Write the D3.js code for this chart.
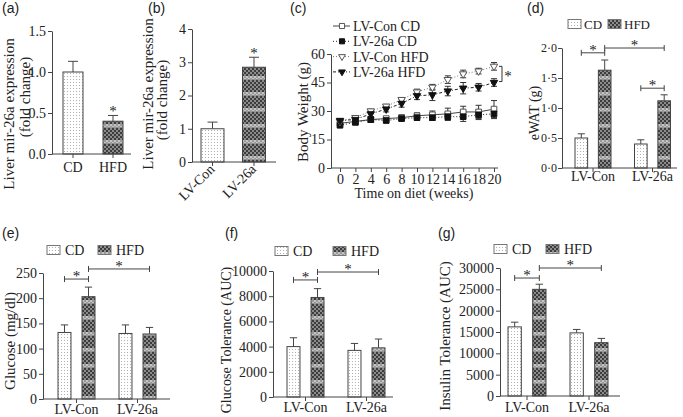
<!DOCTYPE html>
<html>
<head>
<meta charset="utf-8">
<script src="https://cdn.jsdelivr.net/npm/d3@7"></script>
<style>
body { margin: 0; background: #fff; }
svg text { font-family: "Liberation Serif", "Times New Roman", serif !important; fill: #222; }
svg text.plabel { font-family: "Liberation Sans", Arial, sans-serif !important; font-size: 14px; }
.axis path, .axis line { stroke: #444; }
</style>
</head>
<body>
<div id="chart"></div>
<script>
// ---- data ----
const aCats = ["CD", "HFD"];
const aVals = [1.0, 0.40];
const aErr = [0.13, 0.07];

const bCats = ["LV-Con", "LV-26a"];
const bVals = [1.0, 2.85];
const bErr = [0.2, 0.3];

const weeks = [0, 2, 4, 6, 8, 10, 12, 14, 16, 18, 20];
const conCD = [23.5, 24.5, 25.5, 26, 26.5, 27.5, 28, 28.5, 29.5, 29.5, 31];
const conCDErr = [1, 1, 1.5, 1, 1.5, 1.5, 2, 3, 3, 3.5, 4.5];
const lvCD = [22.5, 24, 25.5, 25, 26, 26.5, 26.5, 27, 27, 28, 28.5];
const lvCDErr = [1, 1, 1.5, 1, 1, 1.5, 1.5, 2, 2.5, 2.5, 2.5];
const conHFD = [24.5, 26.5, 30, 32.5, 36, 40, 42.5, 46.5, 49.5, 51, 53.5];
const conHFDErr = [1, 1, 1, 1, 1, 1.5, 1.5, 2, 2, 1.5, 2];
const lvHFD = [25, 25.5, 28.5, 31, 34, 38, 38.5, 40.5, 42, 42.5, 45];
const lvHFDErr = [1, 1, 1.5, 1.5, 2, 2, 3, 2.5, 3, 2, 2];
const seriesNames = ["LV-Con CD", "LV-26a CD", "LV-Con HFD", "LV-26a HFD"];

const groups = ["LV-Con", "LV-26a"];
const diets = ["CD", "HFD"];
const watCD = [0.5, 0.4], watHFD = [1.63, 1.12];
const watCDErr = [0.07, 0.07], watHFDErr = [0.17, 0.1];
const gluCD = [132, 130], gluHFD = [203, 129];
const gluCDErr = [15, 17], gluHFDErr = [19, 13];
const gttCD = [4000, 3700], gttHFD = [7900, 3900];
const gttCDErr = [700, 550], gttHFDErr = [700, 700];
const ittCD = [16200, 14800], ittHFD = [25000, 12500];
const ittCDErr = [1100, 800], ittHFDErr = [1200, 1000];

const SERIF = "Liberation Serif";

// ---- svg + patterns ----
const svg = d3.select("#chart").append("svg").attr("width", 683).attr("height", 417)
  .attr("font-family", SERIF);
svg.append("rect").attr("width", 683).attr("height", 417).attr("fill", "#fff");
const defs = svg.append("defs");

const dots = defs.append("pattern").attr("id", "dots").attr("patternUnits", "userSpaceOnUse")
  .attr("width", 3).attr("height", 3);
dots.append("rect").attr("width", 3).attr("height", 3).attr("fill", "#fff");
dots.append("rect").attr("x", 1).attr("y", 1).attr("width", 1).attr("height", 1).attr("fill", "#b0b0b0");

const check = defs.append("pattern").attr("id", "check").attr("patternUnits", "userSpaceOnUse")
  .attr("width", 4).attr("height", 16);
check.append("rect").attr("width", 4).attr("height", 16).attr("fill", "#8c8c8c");
check.append("rect").attr("y", 12).attr("width", 4).attr("height", 3).attr("fill", "#c4c4c4");
for (let yy = 0; yy < 16; yy += 4) {
  const dark = yy >= 12 ? "#9a9a9a" : "#3c3c3c";
  check.append("rect").attr("x", 0).attr("y", yy).attr("width", 2).attr("height", 2).attr("fill", dark);
  check.append("rect").attr("x", 2).attr("y", yy + 2).attr("width", 2).attr("height", 2).attr("fill", dark);
}
const fillFor = d => d === "CD" || d === "LV-Con" ? "url(#dots)" : "url(#check)";

function txt(x, y, s, size) {
  return svg.append("text").attr("x", x).attr("y", y).attr("font-family", SERIF)
    .attr("font-size", size || 14).attr("fill", "#222").text(s);
}
function panelLabel(s, x, y) {
  svg.append("text").attr("class", "plabel").attr("x", x).attr("y", y)
    .attr("font-family", "Liberation Sans").attr("font-size", 14).attr("fill", "#222").text(s);
}
function yTitle(s, x, y, size) {
  txt(0, 0, s, size).attr("transform", `translate(${x},${y}) rotate(-90)`)
    .attr("text-anchor", "middle").attr("dy", "0.35em");
}
function star(x, y) {
  txt(x, y + 7, "*", 15).attr("text-anchor", "middle");
}
function yAxis(y, x, ticks, fmt, size, pad) {
  const g = svg.append("g").attr("class", "axis").attr("transform", `translate(${x},0)`)
    .call(d3.axisLeft(y).tickValues(ticks).tickFormat(fmt).tickSize(4).tickSizeOuter(0).tickPadding(pad == null ? 2 : pad));
  g.attr("font-family", SERIF).attr("font-size", size || 14);
  g.selectAll("text").attr("fill", "#222");
  return g;
}
function xBase(x1, x2, y0, centers) {
  svg.append("line").attr("x1", x1).attr("x2", x2).attr("y1", y0).attr("y2", y0).attr("stroke", "#444");
  centers.forEach(c => svg.append("line").attr("x1", c).attr("x2", c).attr("y1", y0).attr("y2", y0 + 4).attr("stroke", "#444"));
}

// ---- (a) ----
panelLabel("(a)", 2, 13);
{
  const y = d3.scaleLinear().domain([0, 1.5]).range([154, 31]);
  const x = d3.scaleBand().domain(aCats).range([53, 133]).paddingInner(0.5).paddingOuter(0.25);
  yAxis(y, 52, [0, 0.5, 1.0, 1.5], d3.format(".1f"));
  aCats.forEach((c, i) => {
    const cx = x(c) + x.bandwidth() / 2;
    svg.append("line").attr("x1", cx).attr("x2", cx).attr("y1", y(aVals[i])).attr("y2", y(aVals[i] + aErr[i])).attr("stroke", "#444");
    svg.append("line").attr("x1", cx - 5).attr("x2", cx + 5).attr("y1", y(aVals[i] + aErr[i])).attr("y2", y(aVals[i] + aErr[i])).attr("stroke", "#444");
    svg.append("rect").attr("x", x(c)).attr("y", y(aVals[i])).attr("width", x.bandwidth())
      .attr("height", y(0) - y(aVals[i])).attr("fill", fillFor(c)).attr("stroke", "#444");
    txt(cx, 172, c).attr("text-anchor", "middle");
  });
  xBase(52, 131, 154, aCats.map(c => x(c) + x.bandwidth() / 2));
  star(x("HFD") + x.bandwidth() / 2, y(aVals[1] + aErr[1]) - 6);
  yTitle("Liver mir-26a expression", 9, 114, 15);
  yTitle("(fold change)", 25, 97, 15);
}

// ---- (b) ----
panelLabel("(b)", 148, 13);
{
  const y = d3.scaleLinear().domain([0, 4]).range([162, 29]);
  const x = d3.scaleBand().domain(bCats).range([192, 274.5]).paddingInner(0.446).paddingOuter(0.217);
  yAxis(y, 192, [0, 1, 2, 3, 4], d3.format("d"));
  bCats.forEach((c, i) => {
    const cx = x(c) + x.bandwidth() / 2;
    svg.append("line").attr("x1", cx).attr("x2", cx).attr("y1", y(bVals[i])).attr("y2", y(bVals[i] + bErr[i])).attr("stroke", "#444");
    svg.append("line").attr("x1", cx - 5).attr("x2", cx + 5).attr("y1", y(bVals[i] + bErr[i])).attr("y2", y(bVals[i] + bErr[i])).attr("stroke", "#444");
    svg.append("rect").attr("x", x(c)).attr("y", y(bVals[i])).attr("width", x.bandwidth())
      .attr("height", y(0) - y(bVals[i])).attr("fill", fillFor(c)).attr("stroke", "#444");
    txt(0, 0, c).attr("transform", `translate(${cx + 3},${170}) rotate(-45)`).attr("text-anchor", "end");
  });
  xBase(192, 276, 162, bCats.map(c => x(c) + x.bandwidth() / 2));
  star(x("LV-26a") + x.bandwidth() / 2, y(bVals[1] + bErr[1]) - 6);
  yTitle("Liver mir-26a expression", 148, 94, 15);
  yTitle("(fold change)", 162, 100, 15);
}

// ---- (c) ----
panelLabel("(c)", 290, 13);
{
  const x = d3.scaleLinear().domain([0, 20]).range([340, 494]);
  const y = d3.scaleLinear().domain([0, 60]).range([168, 54]);
  yAxis(y, 331, [0, 15, 30, 45, 60], d3.format("d"));
  const xa = svg.append("g").attr("class", "axis").attr("transform", "translate(0,168)")
    .call(d3.axisBottom(x).tickValues(weeks).tickSize(4).tickSizeOuter(0).tickPadding(2));
  xa.attr("font-family", SERIF).attr("font-size", 14);
  xa.select(".domain").remove();
  xa.selectAll("text").attr("fill", "#222");
  svg.append("line").attr("x1", 331).attr("x2", 498).attr("y1", 168).attr("y2", 168).attr("stroke", "#444");
  txt(414, 198, "Time on diet (weeks)").attr("text-anchor", "middle");
  yTitle("Body Weight (g)", 303, 112, 15);

  const series = [
    { name: seriesNames[0], v: conCD, e: conCDErr, sym: d3.symbolSquare, rot: 0, filled: false, dash: null, col: "#444" },
    { name: seriesNames[1], v: lvCD, e: lvCDErr, sym: d3.symbolSquare, rot: 0, filled: true, dash: "1,2", col: "#222" },
    { name: seriesNames[2], v: conHFD, e: conHFDErr, sym: d3.symbolTriangle, rot: 180, filled: false, dash: "1,2", col: "#777" },
    { name: seriesNames[3], v: lvHFD, e: lvHFDErr, sym: d3.symbolTriangle, rot: 180, filled: true, dash: "3,2,1,2", col: "#222" }
  ];
  const line = d3.line().x((d, i) => x(weeks[i])).y(d => y(d));
  series.forEach(s => {
    svg.append("path").attr("d", line(s.v)).attr("fill", "none").attr("stroke", s.col)
      .attr("stroke-width", 1).attr("stroke-dasharray", s.dash);
    s.v.forEach((v, i) => {
      const cx = x(weeks[i]);
      const g = svg.append("g").attr("stroke", "#333");
      g.append("line").attr("x1", cx).attr("x2", cx).attr("y1", y(v - s.e[i])).attr("y2", y(v + s.e[i]));
      [v - s.e[i], v + s.e[i]].forEach(t => g.append("line").attr("x1", cx - 3).attr("x2", cx + 3).attr("y1", y(t)).attr("y2", y(t)));
    });
  });
  series.forEach(s => {
    svg.selectAll(null).data(s.v).enter().append("path")
      .attr("d", d3.symbol().type(s.sym).size(s.sym === d3.symbolSquare ? 32 : 24))
      .attr("transform", (d, i) => `translate(${x(weeks[i])},${y(d)}) rotate(${s.rot})`)
      .attr("fill", s.filled ? "#111" : "#fff").attr("stroke", s.filled ? "#111" : "#555");
  });
  // legend
  series.forEach((s, i) => {
    const ly = 26 + i * 15.3;
    svg.append("line").attr("x1", 333).attr("x2", 350).attr("y1", ly).attr("y2", ly)
      .attr("stroke", s.col).attr("stroke-dasharray", s.dash);
    svg.append("path").attr("d", d3.symbol().type(s.sym).size(s.sym === d3.symbolSquare ? 26 : 20)).attr("transform", `translate(342,${ly}) rotate(${s.rot})`)
      .attr("fill", s.filled ? "#111" : "#fff").attr("stroke", s.filled ? "#111" : "#555");
    txt(353, ly, s.name).attr("dy", "0.35em");
  });
  // significance
  const bx = x(20) + 8;
  svg.append("path").attr("d", `M${bx - 3},${y(53.5)}H${bx}V${y(45.5)}H${bx - 3}`).attr("fill", "none").attr("stroke", "#333");
  star(bx + 6, (y(53.5) + y(45.5)) / 2);
}

// ---- grouped bar panels (d)-(g) ----
function grouped(o) {
  const y = d3.scaleLinear().domain([0, o.max]).range([o.bottom, o.top]);
  const p = (o.step - o.gw) / o.step, q = o.offset / o.step;
  const x0 = d3.scaleBand().domain(groups).range([o.left, o.left + o.step * (2 - p + 2 * q)]).paddingInner(p).paddingOuter(q);
  const x1 = d3.scaleBand().domain(diets).range([0, x0.bandwidth()]).paddingInner(0.46);
  const cx = (g, d) => x0(g) + x1(d) + x1.bandwidth() / 2;
  yAxis(y, o.left, o.ticks, o.fmt, o.tickFont, o.tickPad);
  const vals = { CD: o.cd, HFD: o.hfd }, errs = { CD: o.cdErr, HFD: o.hfdErr };
  groups.forEach((g, gi) => diets.forEach(d => {
    const v = vals[d][gi], e = errs[d][gi], c = cx(g, d), cap = x1.bandwidth() * 0.28;
    svg.append("line").attr("x1", c).attr("x2", c).attr("y1", y(v)).attr("y2", y(v + e)).attr("stroke", "#444");
    svg.append("line").attr("x1", c - cap).attr("x2", c + cap).attr("y1", y(v + e)).attr("y2", y(v + e)).attr("stroke", "#444");
    svg.append("rect").attr("x", x0(g) + x1(d)).attr("y", y(v)).attr("width", x1.bandwidth())
      .attr("height", y(0) - y(v)).attr("fill", fillFor(d)).attr("stroke", "#444");
  }));
  xBase(o.left, o.axisEnd, o.bottom, groups.map(g => x0(g) + x0.bandwidth() / 2));
  groups.forEach(g => txt(x0(g) + x0.bandwidth() / 2, o.bottom + o.labDy, g).attr("text-anchor", "middle"));
  diets.forEach((d, i) => {
    const lx = o.legX + i * o.legGap;
    svg.append("rect").attr("x", lx).attr("y", o.legY - 4.5).attr("width", 13).attr("height", 9)
      .attr("fill", fillFor(d)).attr("stroke", "#777");
    txt(lx + (o.legTxt || 18), o.legY, d, o.legFont || 14).attr("dy", "0.35em");
  });
  o.sig.forEach(s => {
    const xa = cx(s[0], s[1]), xb = cx(s[2], s[3]), yy = y(s[4]);
    svg.append("path").attr("d", `M${xa},${yy - 3}V${yy + 3}M${xa},${yy}H${xb}M${xb},${yy - 3}V${yy + 3}`)
      .attr("fill", "none").attr("stroke", "#444");
    star((xa + xb) / 2, yy - 5);
  });
  yTitle(o.title, o.titleX, o.titleY, o.titleFont || 15);
}

panelLabel("(d)", 527, 13);
grouped({ left: 562, top: 48, bottom: 168, max: 2, ticks: [0, 0.5, 1, 1.5, 2], tickFont: 12, tickPad: 1,
  fmt: d => d3.format(".1f")(d).replace(".", "·"), offset: 13, gw: 36, step: 59.5, axisEnd: 677, labDy: 13,
  cd: watCD, hfd: watHFD, cdErr: watCDErr, hfdErr: watHFDErr, legX: 568, legY: 24, legGap: 40, legFont: 13, legTxt: 16,
  sig: [["LV-Con", "CD", "LV-Con", "HFD", 1.92], ["LV-Con", "HFD", "LV-26a", "HFD", 2.0], ["LV-26a", "CD", "LV-26a", "HFD", 1.33]],
  title: "eWAT (g)", titleX: 534, titleY: 113, titleFont: 14 });

panelLabel("(e)", 2, 238);
grouped({ left: 43, top: 273, bottom: 399, max: 250, ticks: [0, 50, 100, 150, 200, 250],
  fmt: d3.format("d"), offset: 15, gw: 37, step: 61, axisEnd: 170, labDy: 15,
  cd: gluCD, hfd: gluHFD, cdErr: gluCDErr, hfdErr: gluHFDErr, legX: 47, legY: 250, legGap: 51,
  sig: [["LV-Con", "CD", "LV-Con", "HFD", 238], ["LV-Con", "HFD", "LV-26a", "HFD", 258]],
  title: "Glucose (mg/dl)", titleX: 10, titleY: 341 });

panelLabel("(f)", 225, 238);
grouped({ left: 273, top: 271, bottom: 397, max: 10000, ticks: [0, 2000, 4000, 6000, 8000, 10000],
  fmt: d3.format("d"), offset: 14, gw: 37, step: 61, axisEnd: 393, labDy: 15,
  cd: gttCD, hfd: gttHFD, cdErr: gttCDErr, hfdErr: gttHFDErr, legX: 275, legY: 251, legGap: 58,
  sig: [["LV-Con", "CD", "LV-Con", "HFD", 9290], ["LV-Con", "HFD", "LV-26a", "HFD", 9920]],
  title: "Glucose Tolerance (AUC)", titleX: 226, titleY: 340, titleFont: 14 });

panelLabel("(g)", 438, 238);
grouped({ left: 500, top: 268, bottom: 396, max: 30000, ticks: [0, 5000, 10000, 15000, 20000, 25000, 30000],
  fmt: d3.format("d"), offset: 8, gw: 38, step: 62, axisEnd: 620, labDy: 16,
  cd: ittCD, hfd: ittHFD, cdErr: ittCDErr, hfdErr: ittHFDErr, legX: 494, legY: 249, legGap: 52,
  sig: [["LV-Con", "CD", "LV-Con", "HFD", 27650], ["LV-Con", "HFD", "LV-26a", "HFD", 30000]],
  title: "Insulin Tolerance (AUC)", titleX: 445, titleY: 336 });
</script>
</body>
</html>
